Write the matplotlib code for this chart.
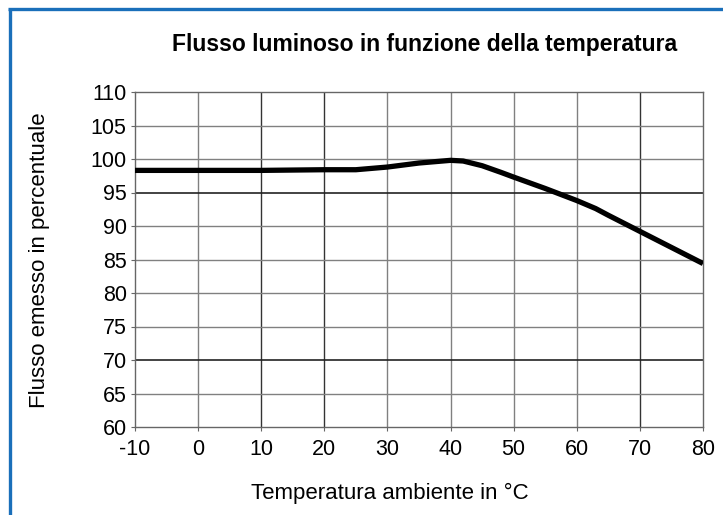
import matplotlib
matplotlib.use("Agg")
import matplotlib.pyplot as plt
from matplotlib.lines import Line2D
import numpy as np

plt.rcParams['font.family'] = ['Liberation Sans', 'DejaVu Sans']

title = "Flusso luminoso in funzione della temperatura"
xlabel = "Temperatura ambiente in °C"
ylabel = "Flusso emesso in percentuale"

temps = [-10, 0, 10, 20, 25, 30, 35, 40, 42, 45, 48, 50, 55, 60, 63, 65, 70, 75, 80]
flux = [98.3, 98.3, 98.3, 98.4, 98.4, 98.8, 99.4, 99.8, 99.7, 99.0, 98.0, 97.3, 95.6, 93.8, 92.6, 91.6, 89.2, 86.8, 84.4]

xticks = [-10, 0, 10, 20, 30, 40, 50, 60, 70, 80]
yticks = [60, 65, 70, 75, 80, 85, 90, 95, 100, 105, 110]
dark_x = [10, 20, 70]
dark_y = [70, 95]

W, H = 723, 515
fig = plt.figure(figsize=(W / 100, H / 100), dpi=100)
ax = fig.add_axes([135 / W, 1 - 427 / H, (703 - 135) / W, (427 - 92) / H])

ax.set_xlim(-10, 80)
ax.set_ylim(60, 110)
ax.set_xticks(xticks)
ax.set_yticks(yticks)
ax.set_xticklabels([str(t) for t in xticks])
ax.set_yticklabels([str(t) for t in yticks])

for x in xticks[1:-1]:
    c = '#333333' if x in dark_x else '#808080'
    ax.axvline(x, color=c, lw=1.0, zorder=1)
for y in yticks[1:-1]:
    c = '#222222' if y in dark_y else '#808080'
    ax.axhline(y, color=c, lw=1.0 if y not in dark_y else 1.2, zorder=1)

for s in ax.spines.values():
    s.set_color('#666666')
    s.set_linewidth(1.0)

ax.tick_params(axis='both', labelsize=15.5, length=3, color='#666666', width=0.8)
ax.tick_params(axis='x', pad=5.5)
ax.tick_params(axis='y', pad=3)

ax.plot(temps, flux, color='black', lw=3.8, solid_capstyle='butt', zorder=3)

fig.text(425 / W, 1 - 45 / H, title, ha='center', va='center', fontsize=16.5, fontweight='bold')
fig.text(390 / W, 1 - 493 / H, xlabel, ha='center', va='center', fontsize=16)
fig.text(40 / W, 1 - 260 / H, ylabel, ha='center', va='center', rotation=90, fontsize=16)

blue = '#1a6fba'
fig.add_artist(Line2D([9.5 / W, 9.5 / W], [0, 1 - 8.5 / H], transform=fig.transFigure, color=blue, lw=2.4, solid_capstyle='butt'))
fig.add_artist(Line2D([8.3 / W, 1], [1 - 8.5 / H, 1 - 8.5 / H], transform=fig.transFigure, color=blue, lw=2.4, solid_capstyle='butt'))

fig.savefig('out.png', dpi=100)
